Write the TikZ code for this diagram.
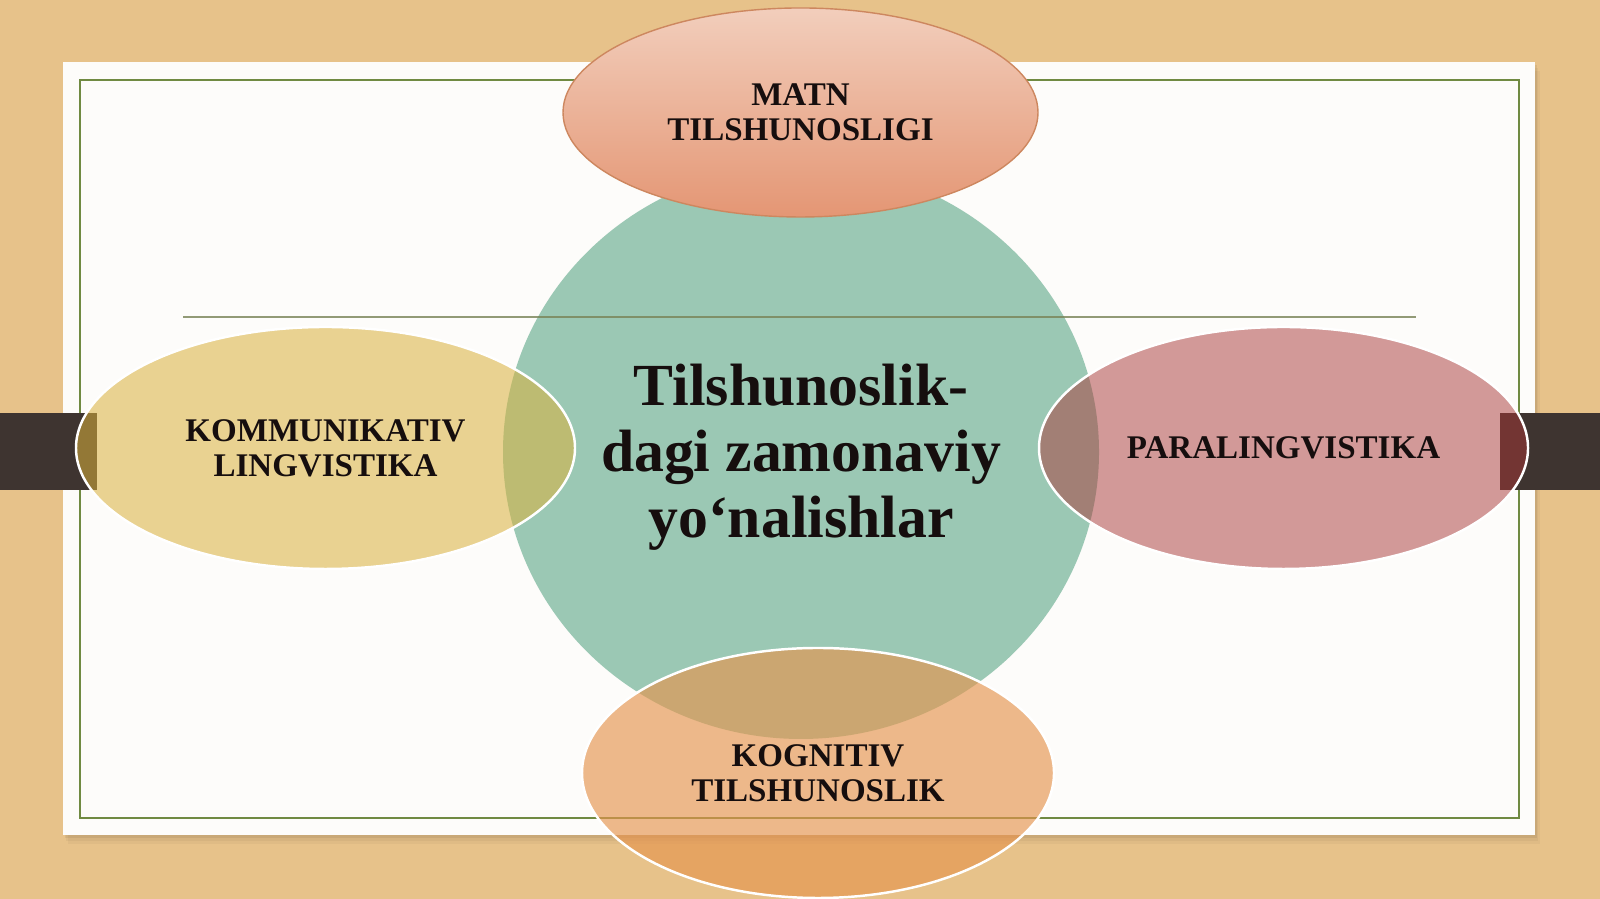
\documentclass[tikz,border=0pt]{standalone}
\usepackage{fontspec}
\setmainfont{Liberation Serif}
\usetikzlibrary{shapes.geometric}

\definecolor{wood}{RGB}{231,194,138}
\definecolor{card}{RGB}{253,252,250}
\definecolor{frame}{RGB}{112,138,66}
\definecolor{bar}{RGB}{62,52,48}
\definecolor{hubteal}{RGB}{155,200,180}
\definecolor{matntop}{RGB}{242,206,188}
\definecolor{matnbot}{RGB}{228,150,116}
\definecolor{matnline}{RGB}{205,135,95}
\definecolor{kommfill}{RGB}{217,177,60}
\definecolor{parafill}{RGB}{169,55,55}
\definecolor{kognfill}{RGB}{229,148,78}
\definecolor{ink}{RGB}{22,14,14}
\definecolor{rule}{RGB}{120,130,85}

\tikzset{
  petal/.style={ellipse, inner sep=0pt, outer sep=0pt, align=center,
    text=ink, font=\fontsize{9.4}{10}\selectfont\bfseries},
  glass/.style={petal, draw=white, line width=0.7pt,
    fill opacity=#1, text opacity=1},
}

\begin{document}
\begin{tikzpicture}
\useasboundingbox (0,0) rectangle (16,8.99);
\fill[wood] (0,0) rectangle (16,8.99);
\foreach \d/\o in {0.09/0.03, 0.06/0.04, 0.03/0.06} {
  \fill[black, opacity=\o] (0.63+\d*0.5, 0.64-\d) rectangle (15.35+\d*0.5, 8.37-\d);
}
\fill[card] (0.63,0.64) rectangle (15.35,8.37);
\draw[frame, line width=0.6pt] (0.80,0.81) rectangle (15.19,8.19);
\fill[bar] (0,4.09) rectangle (0.97,4.86);
\fill[bar] (15.00,4.09) rectangle (16,4.86);

\node[ellipse, fill=hubteal, inner sep=0pt, minimum width=5.96cm,
  minimum height=5.74cm] (hub) at (8.01,4.47) {};
\node[text=ink, align=center, font=\fontsize{17}{18.8}\selectfont\bfseries]
  (hubtext) at ([yshift=-0.05cm]hub.center)
  {Tilshunoslik-\\dagi zamonaviy\\yo‘nalishlar};

\coordinate (rulestart) at (1.83,5.82);
\coordinate (ruleend) at (14.16,5.82);
\draw[rule, line width=0.6pt, opacity=0.8] (rulestart) -- (ruleend);

\node[petal, draw=matnline, line width=0.4pt, top color=matntop,
  bottom color=matnbot, minimum width=4.75cm, minimum height=2.09cm]
  (matn) at (8.005,7.865) {MATN\\TILSHUNOSLIGI};
\node[glass=0.55, fill=kommfill, minimum width=4.99cm, minimum height=2.42cm]
  (komm) at (3.255,4.51) {KOMMUNIKATIV\\LINGVISTIKA};
\node[glass=0.5, fill=parafill, minimum width=4.89cm, minimum height=2.42cm]
  (para) at (12.835,4.51) {PARALINGVISTIKA};
\node[glass=0.65, fill=kognfill, minimum width=4.72cm, minimum height=2.5cm]
  (kogn) at (8.18,1.26) {KOGNITIV\\TILSHUNOSLIK};
\end{tikzpicture}
\end{document}
